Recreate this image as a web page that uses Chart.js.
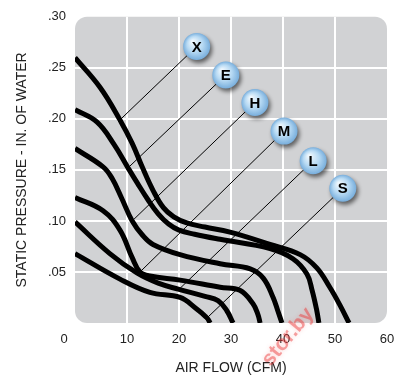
<!DOCTYPE html>
<html>
<head>
<meta charset="utf-8">
<script src="https://cdn.jsdelivr.net/npm/chart.js@4"></script>
<style>
    html, body { margin: 0; padding: 0; background: #fff; }
    #wrap { width: 408px; height: 383px; }
</style>
</head>
<body>
<div id="wrap"><canvas id="fanChart" width="408" height="383"></canvas></div>
<script>
// fan curves, air flow (CFM) vs static pressure (in. of water)
const flowX = [0, 4.8, 8.65, 11, 13, 15, 17, 19, 21.5, 25, 29.8, 37.5, 43.3, 46.5, 49, 51, 52.7];
const pressX = [0.260, 0.231, 0.199, 0.176, 0.152, 0.130, 0.113, 0.104, 0.098, 0.094, 0.089, 0.077, 0.067, 0.054, 0.035, 0.017, 0];
const flowE = [0, 4.2, 7.5, 10.2, 12, 14, 16, 18, 20, 23, 27.9, 37.5, 41.9, 44.6, 45.6, 46.5, 46.9];
const pressE = [0.209, 0.197, 0.175, 0.152, 0.137, 0.121, 0.107, 0.097, 0.091, 0.087, 0.082, 0.073, 0.063, 0.048, 0.032, 0.012, 0];
const flowH = [0, 5.4, 7.1, 9, 11, 13, 15, 20.2, 27.9, 33.7, 36.2, 38.1, 39, 39.8];
const pressH = [0.171, 0.153, 0.142, 0.122, 0.100, 0.086, 0.077, 0.067, 0.058, 0.053, 0.044, 0.025, 0.012, 0];
const flowM = [0, 5.4, 8.65, 11, 12.5, 14.4, 20.2, 27.9, 31.7, 34.2, 35.2, 35.6];
const pressM = [0.123, 0.110, 0.091, 0.064, 0.050, 0.046, 0.042, 0.035, 0.032, 0.019, 0.008, 0];
const flowL = [0, 6.7, 11.9, 16, 20, 25, 27.5, 29.2, 30.4];
const pressL = [0.099, 0.068, 0.049, 0.039, 0.033, 0.026, 0.022, 0.012, 0];
const flowS = [0, 8.65, 14.4, 20.2, 23.1, 25.4, 26];
const pressS = [0.068, 0.043, 0.030, 0.025, 0.015, 0.005, 0];

// marker dots on the curves and the ball labels they point to
const speedNames = ['X', 'E', 'H', 'M', 'L', 'S'];
const dotFlow = [8.65, 10.2, 11, 12.5, 20, 25.4];
const dotPress = [0.199, 0.152, 0.100, 0.050, 0.033, 0.005];
const tagFlow = [23.4, 29.0, 34.6, 40.2, 45.8, 51.5];
const tagPress = [0.271, 0.243, 0.216, 0.188, 0.159, 0.132];

const xTicks = [0, 10, 20, 30, 40, 50, 60];
const yTicks = [0, 0.05, 0.10, 0.15, 0.20, 0.25, 0.30];

const FONT = "'Liberation Sans', Arial, Helvetica, sans-serif";

function toPoints(xs, ys) {
    return xs.map((x, i) => ({ x: x, y: ys[i] }));
}

let curves = [[flowX, pressX], [flowE, pressE], [flowH, pressH], [flowM, pressM], [flowL, pressL], [flowS, pressS]];
let datasets = [];

// leader lines first so the curves cover their ends
speedNames.forEach((name, i) => {
    datasets.push({
        label: 'lead ' + name,
        data: [{ x: dotFlow[i], y: dotPress[i] }, { x: tagFlow[i], y: tagPress[i] }],
        showLine: true,
        borderColor: '#000',
        borderWidth: 1,
        pointRadius: 0,
        clip: false
    });
});

curves.forEach((c, i) => {
    datasets.push({
        label: speedNames[i],
        data: toPoints(c[0], c[1]),
        showLine: true,
        tension: 0.4,
        borderColor: '#000',
        borderWidth: 5,
        borderCapStyle: 'butt',
        pointRadius: 0
    });
});

datasets.push({
    label: 'dots',
    data: toPoints(dotFlow, dotPress),
    showLine: false,
    pointRadius: 2.8,
    pointBackgroundColor: '#fff',
    pointBorderWidth: 0
});

const plotBackground = {
    id: 'plotBackground',
    beforeDraw(chart) {
        const { ctx, chartArea: a } = chart;
        ctx.save();
        ctx.fillStyle = '#d1d2d4';
        ctx.beginPath();
        ctx.roundRect(a.left, a.top, a.right - a.left, a.bottom - a.top, 12);
        ctx.fill();
        ctx.restore();
    }
};

const ballTags = {
    id: 'ballTags',
    afterDatasetsDraw(chart) {
        const { ctx, scales } = chart;
        const r = 13.5;
        speedNames.forEach((name, i) => {
            const cx = scales.x.getPixelForValue(tagFlow[i]);
            const cy = scales.y.getPixelForValue(tagPress[i]);
            ctx.save();
            ctx.shadowColor = 'rgba(0,0,0,0.55)';
            ctx.shadowBlur = 4;
            ctx.shadowOffsetX = 2;
            ctx.shadowOffsetY = 3;
            let g = ctx.createRadialGradient(cx - 4, cy - 5, 1, cx, cy, r);
            g.addColorStop(0, '#eef7fd');
            g.addColorStop(0.55, '#b6d9f3');
            g.addColorStop(1, '#78aedc');
            ctx.fillStyle = g;
            ctx.beginPath();
            ctx.arc(cx, cy, r, 0, Math.PI * 2);
            ctx.fill();
            ctx.restore();

            ctx.save();
            ctx.fillStyle = '#000';
            ctx.font = 'bold 15px ' + FONT;
            ctx.textAlign = 'center';
            ctx.textBaseline = 'middle';
            ctx.fillText(name, cx, cy + 1);
            ctx.restore();
        });
    },
    afterDraw(chart) {
        // faint red site watermark
        const ctx = chart.ctx;
        ctx.save();
        ctx.translate(288, 337);
        ctx.rotate(-0.88);
        ctx.font = 'bold 21px ' + FONT;
        ctx.textAlign = 'center';
        ctx.textBaseline = 'middle';
        ctx.shadowColor = 'rgba(240,80,80,0.5)';
        ctx.shadowBlur = 4;
        ctx.fillStyle = 'rgba(235,50,50,0.45)';
        ctx.fillText('stor.by', 0, 0);
        ctx.restore();
    }
};

new Chart(document.getElementById('fanChart').getContext('2d'), {
    type: 'scatter',
    data: { datasets: datasets },
    options: {
        responsive: false,
        animation: false,
        layout: { padding: { left: 0, right: 21, top: 10, bottom: 0 } },
        plugins: {
            legend: { display: false },
            tooltip: { enabled: false }
        },
        scales: {
            x: {
                type: 'linear',
                min: 0,
                max: 60,
                afterBuildTicks: (scale) => { scale.ticks = xTicks.map(v => ({ value: v })); },
                afterFit: (scale) => { scale.height = 60; },
                border: { display: false },
                grid: {
                    drawTicks: false,
                    lineWidth: 2,
                    color: (c) => (c.tick && (c.tick.value === 0 || c.tick.value === 60)) ? 'rgba(0,0,0,0)' : '#fff'
                },
                ticks: {
                    padding: 9,
                    color: '#222',
                    font: { family: FONT, size: 13 },
                    maxRotation: 0,
                    callback: (v) => v === 0 ? '0      ' : String(v)
                },
                title: {
                    display: true,
                    text: 'AIR FLOW (CFM)',
                    color: '#222',
                    font: { family: FONT, size: 14 },
                    padding: { top: 0, bottom: 6 }
                }
            },
            y: {
                type: 'linear',
                min: 0,
                max: 0.30,
                afterBuildTicks: (scale) => { scale.ticks = yTicks.map(v => ({ value: v })); },
                afterFit: (scale) => { scale.width = 75; },
                border: { display: false },
                grid: {
                    drawTicks: false,
                    lineWidth: 2,
                    color: (c) => (c.tick && (c.tick.value === 0 || c.tick.value >= 0.299)) ? 'rgba(0,0,0,0)' : '#fff'
                },
                ticks: {
                    padding: 9,
                    color: '#222',
                    font: { family: FONT, size: 13 },
                    callback: (v) => v === 0 ? '' : v.toFixed(2).slice(1)
                },
                title: {
                    display: true,
                    text: 'STATIC PRESSURE - IN. OF WATER',
                    color: '#222',
                    font: { family: FONT, size: 14 },
                    padding: { top: 14, bottom: 0 }
                }
            }
        }
    },
    plugins: [plotBackground, ballTags]
});
</script>
</body>
</html>
